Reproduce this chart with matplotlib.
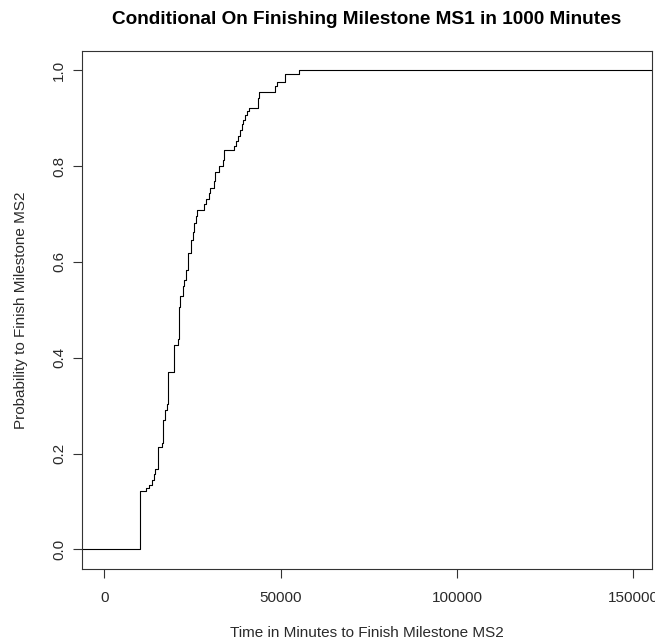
import numpy as np
import matplotlib.pyplot as plt

# minutes at which the empirical probability steps up, and the level after each step
step_minutes = [10120, 11990, 12750, 13520, 14080, 14540, 15220, 16440, 16800, 17200,
                17770, 18140, 19830, 20890, 21170, 21630, 22470, 22670, 23240, 23890,
                24570, 25130, 25500, 25990, 26440, 28340, 28910, 29840, 30040, 31260,
                31450, 32590, 33810, 34000, 36840, 37410, 38060, 38540, 39030, 39470,
                39960, 40440, 41180, 43730, 43930, 48460, 48940, 51290, 55350]
step_prob = [0.121, 0.128, 0.135, 0.145, 0.157, 0.167, 0.213, 0.222, 0.270, 0.291,
             0.303, 0.370, 0.427, 0.439, 0.506, 0.528, 0.550, 0.562, 0.582, 0.619,
             0.646, 0.663, 0.681, 0.696, 0.708, 0.720, 0.732, 0.743, 0.754, 0.769,
             0.788, 0.800, 0.813, 0.834, 0.841, 0.852, 0.863, 0.876, 0.888, 0.897,
             0.907, 0.914, 0.921, 0.942, 0.955, 0.967, 0.976, 0.991, 1.000]

x_ticks = [0, 50000, 100000, 150000]
y_ticks = [0.0, 0.2, 0.4, 0.6, 0.8, 1.0]

plt.rcParams["font.family"] = ["Liberation Sans", "DejaVu Sans"]

W, H = 655, 643
L, R, T, B = 81.5, 652.3, 51, 568.5
fig = plt.figure(figsize=(W / 100, H / 100), dpi=100)
ax = fig.add_axes([L / W, 1 - B / H, (R - L) / W, (B - T) / H])

xlim = (-6430, 155390)
x = [xlim[0]] + step_minutes + [xlim[1]]
y = [0.0] + step_prob + [step_prob[-1]]
ax.step(x, y, where="post", color="black", lw=0.8)

ax.set_xlim(*xlim)
ax.set_ylim(-0.04, 1.04)
ax.set_xticks(x_ticks)
ax.set_xticklabels([str(t) for t in x_ticks])
ax.set_yticks(y_ticks)
ax.set_yticklabels([f"{t:.1f}" for t in y_ticks], rotation=90, va="center")

txt = "#2a2a2a"
ax.tick_params(direction="out", length=6.5, width=0.8, color="#333333",
               labelsize=11, labelcolor=txt)
ax.tick_params(axis="x", pad=9.5)
ax.tick_params(axis="y", pad=4.5)
for s in ax.spines.values():
    s.set_linewidth(0.8)
    s.set_color("#333333")

ax.set_xlabel("Time in Minutes to Finish Milestone MS2", fontsize=11, color=txt, va="center")
ax.xaxis.set_label_coords(0.5, (B - 633) / (B - T))
ax.set_ylabel("Probability to Finish Milestone MS2", fontsize=11, color=txt, va="center")
ax.yaxis.set_label_coords((21 - L) / (R - L), 0.5)

ax.set_title("Conditional On Finishing Milestone MS1 in 1000 Minutes",
             fontsize=13.7, fontweight="bold", pad=(T - 24) * 0.72)

fig.savefig("out.png", dpi=100)
